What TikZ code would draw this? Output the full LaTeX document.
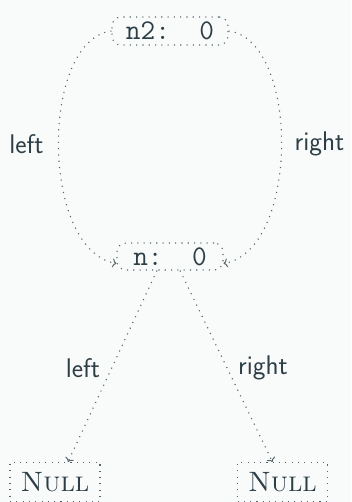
\documentclass[tikz,border=0pt]{standalone}
\usetikzlibrary{arrows.meta}
\definecolor{ink}{RGB}{44,62,70}
\definecolor{bg}{RGB}{249,250,250}
\begin{document}
\begin{tikzpicture}[x=1pt,y=-1pt,
  dotline/.style={line width=1.1pt, dash pattern=on 1.1pt off 5.2pt},
  every node/.style={text=ink, font=\fontsize{28}{32}\selectfont},
  tnode/.style={draw=ink!80, dotline, rounded corners=9pt, inner sep=0pt, font=\fontsize{28.5}{32}\selectfont\ttfamily},
  nullnode/.style={draw=ink!80, dotline, inner sep=0pt, minimum width=90pt, minimum height=39pt},
  conn/.style={draw=ink!80, dotline, -{To[length=4pt,width=9pt,line width=1pt]}},
  lbl/.style={font=\fontsize{27}{32}\selectfont\sffamily, inner sep=0pt}]
\fill[bg] (0,0) rectangle (351,502);
\useasboundingbox (0,0) rectangle (351,502);
\node[tnode, minimum width=116pt, minimum height=28pt] (n2) at (170,31) {n2:\ \ 0};
\node[tnode, minimum width=106pt, minimum height=27pt] (n) at (170,256.5) {n:\ \ 0};
\node[nullnode] (nl) at (55,482) {\textsc{Null}};
\node[nullnode] (nr) at (282.5,482) {\textsc{Null}};
\draw[conn] (n2.west) .. controls (40,40) and (40,250) .. ([yshift=-7pt]n.west);
\draw[conn] (n2.east) .. controls (300,40) and (300,250) .. ([yshift=-7pt]n.east);
\draw[conn] ([xshift=-13pt]n.south) -- ([xshift=13pt]nl.north);
\draw[conn] ([xshift=10pt]n.south) -- ([xshift=-10pt]nr.north);
\node[lbl] (l1) at (26.5,144) {left};
\node[lbl] (r1) at (319.5,144) {right};
\node[lbl] (l2) at (83,368) {left};
\node[lbl] (r2) at (263,368) {right};
\end{tikzpicture}
\end{document}
